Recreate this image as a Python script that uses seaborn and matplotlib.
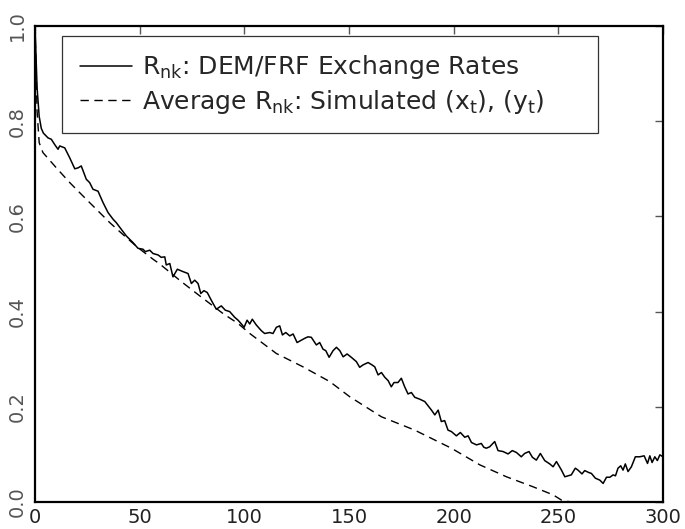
import pandas as pd
import matplotlib
matplotlib.use('Agg')
import matplotlib.pyplot as plt
import seaborn as sns

sns.set_style("white")
plt.rcParams['font.family'] = ['DejaVu Sans']
plt.rcParams['mathtext.default'] = 'regular'

# R_nk for DEM/FRF exchange rates
lag_obs = [0, 1, 2, 3, 4, 6.2, 7.8, 9.4, 11, 11.8, 14.2, 16.6, 19, 20.6, 22.1, 24.5,
           26.1, 27.7, 30.1, 32.5, 34.9, 37.3, 38.8, 41.2, 43.6, 46.8, 49.2, 51.6,
           52.7, 54.8, 56.4, 58.8, 60.3, 62, 62.7, 64.4, 65.9, 68, 70.7, 73.1, 74.7,
           76.3, 77.9, 79.2, 80.7, 82.3, 84.2, 86.6, 89, 90.9, 93, 95.4, 97, 98.6,
           99.9, 101.3, 102.6, 103.8, 105.7, 108.1, 109.7, 112.1, 113.7, 115.3,
           116.9, 118.2, 119.8, 121.7, 123.3, 125.2, 127.3, 128.9, 130.4, 132, 134.4,
           136, 137.6, 138.9, 140.5, 142.4, 144, 145.6, 147.2, 149.1, 151.1, 153.5,
           155.1, 156.7, 159.1, 161, 162.3, 163.9, 165.5, 167.1, 168.7, 170.2, 171.5,
           173.4, 175, 176.6, 178.2, 179.8, 181.4, 183.8, 186.2, 187.8, 189.4, 191,
           192.6, 194.1, 195.7, 197.3, 198.9, 201.3, 203.2, 205.3, 206.9, 208.5,
           210.9, 213.2, 214.4, 215.6, 217.2, 219.6, 221.2, 223.6, 226, 228, 230,
           232.3, 233.9, 236, 237.6, 239.5, 241.4, 243.5, 245.9, 247.5, 249.1, 251.5,
           253.1, 254.7, 256.2, 258.1, 259.4, 261.3, 262.6, 264.5, 265.8, 267.7,
           269.8, 271.4, 273, 274.6, 276.2, 277.3, 278.5, 279.8, 280.9, 282, 283.3,
           284.9, 286.8, 288.9, 291, 292.6, 293.7, 294.8, 296.1, 297.3, 298.5, 300]
r_obs = [1.0, 0.87, 0.81, 0.785, 0.775, 0.765, 0.762, 0.751, 0.741, 0.748, 0.744,
         0.723, 0.700, 0.702, 0.706, 0.678, 0.671, 0.657, 0.653, 0.629, 0.608, 0.594,
         0.587, 0.573, 0.559, 0.545, 0.533, 0.531, 0.526, 0.529, 0.522, 0.519, 0.514,
         0.515, 0.498, 0.501, 0.473, 0.489, 0.484, 0.480, 0.459, 0.466, 0.459, 0.438,
         0.444, 0.440, 0.424, 0.405, 0.412, 0.403, 0.400, 0.388, 0.382, 0.374, 0.367,
         0.382, 0.374, 0.384, 0.372, 0.360, 0.354, 0.356, 0.354, 0.367, 0.370, 0.351,
         0.356, 0.349, 0.353, 0.335, 0.340, 0.344, 0.347, 0.346, 0.330, 0.335, 0.321,
         0.318, 0.304, 0.318, 0.325, 0.318, 0.305, 0.311, 0.304, 0.295, 0.283, 0.288,
         0.293, 0.288, 0.284, 0.267, 0.272, 0.262, 0.255, 0.242, 0.251, 0.251, 0.260,
         0.242, 0.227, 0.230, 0.220, 0.216, 0.211, 0.202, 0.193, 0.183, 0.193, 0.169,
         0.171, 0.151, 0.148, 0.139, 0.146, 0.136, 0.139, 0.125, 0.120, 0.123, 0.115,
         0.113, 0.116, 0.127, 0.108, 0.106, 0.101, 0.108, 0.104, 0.095, 0.102, 0.106,
         0.094, 0.088, 0.102, 0.087, 0.080, 0.074, 0.085, 0.067, 0.053, 0.055, 0.057,
         0.071, 0.067, 0.059, 0.066, 0.062, 0.060, 0.050, 0.046, 0.039, 0.052, 0.052,
         0.057, 0.055, 0.071, 0.076, 0.067, 0.080, 0.064, 0.074, 0.095, 0.095, 0.097,
         0.081, 0.097, 0.083, 0.095, 0.087, 0.099, 0.095]

# average R_nk over simulated series
lag_sim = [0, 1, 2, 3.8, 10.2, 16.6, 22.9, 29.3, 35.7, 42, 49, 56.4, 59.6, 69.9,
           78.7, 89.8, 97, 102.6, 115.3, 128, 140.8, 150.4, 165.5, 181.4, 198.9,
           212.5, 225.2, 237.9, 247.5, 251.5, 256]
r_sim = [1.0, 0.82, 0.755, 0.734, 0.702, 0.671, 0.643, 0.615, 0.587, 0.562, 0.535,
         0.510, 0.500, 0.463, 0.433, 0.396, 0.375, 0.354, 0.312, 0.284, 0.253, 0.221,
         0.179, 0.151, 0.113, 0.078, 0.053, 0.032, 0.015, 0.004, 0.0]

x_ticks = [0, 50, 100, 150, 200, 250, 300]
y_ticks = [0.0, 0.2, 0.4, 0.6, 0.8, 1.0]

obs = pd.DataFrame({'lag': lag_obs, 'R': r_obs})
sim = pd.DataFrame({'lag': lag_sim, 'R': r_sim})

fig = plt.figure(figsize=(6.85, 5.29), dpi=100)
ax = fig.add_axes([35 / 685, 1 - 502 / 529, 628 / 685, 476 / 529])

sns.lineplot(data=obs, x='lag', y='R', sort=False, ax=ax, color='black',
             linewidth=1.1, label=r'$R_{nk}$: DEM/FRF Exchange Rates')
sns.lineplot(data=sim, x='lag', y='R', sort=False, ax=ax, color='black',
             linewidth=1.0, linestyle=(0, (6, 4)),
             label=r'Average $R_{nk}$: Simulated $(x_t)$, $(y_t)$')

ax.set_xlim(0, 300)
ax.set_ylim(0, 1.0)
ax.set_xticks(x_ticks)
ax.set_yticks(y_ticks)
ax.set_xticklabels([str(t) for t in x_ticks])
ax.set_yticklabels([f'{t:.1f}' for t in y_ticks], rotation=90, va='center')
ax.set_xlabel('')
ax.set_ylabel('')

for side in ['left', 'right', 'bottom', 'top']:
    ax.spines[side].set_visible(True)
    ax.spines[side].set_color('black')
    ax.spines[side].set_linewidth(1.6)

ax.tick_params(axis='both', direction='in', length=6, width=1, color='#555555',
               top=True, right=True, labelsize=14)
ax.tick_params(axis='x', pad=4, labelcolor='#222222')
ax.tick_params(axis='y', pad=6, labelcolor='#555555')

# legend box spans roughly 62..598 px across, 36..134 px down
leg = ax.legend(loc='upper left', mode='expand',
                bbox_to_anchor=(27 / 628, 1 - 10 / 476, 536 / 628, 0),
                fontsize=18, frameon=True, fancybox=False, framealpha=1,
                edgecolor='#333333', handlelength=2.1, handletextpad=0.4,
                borderpad=0.7, labelspacing=0.25, borderaxespad=0)
leg.get_frame().set_linewidth(0.9)

plt.savefig('out.png', dpi=100)
plt.close()
